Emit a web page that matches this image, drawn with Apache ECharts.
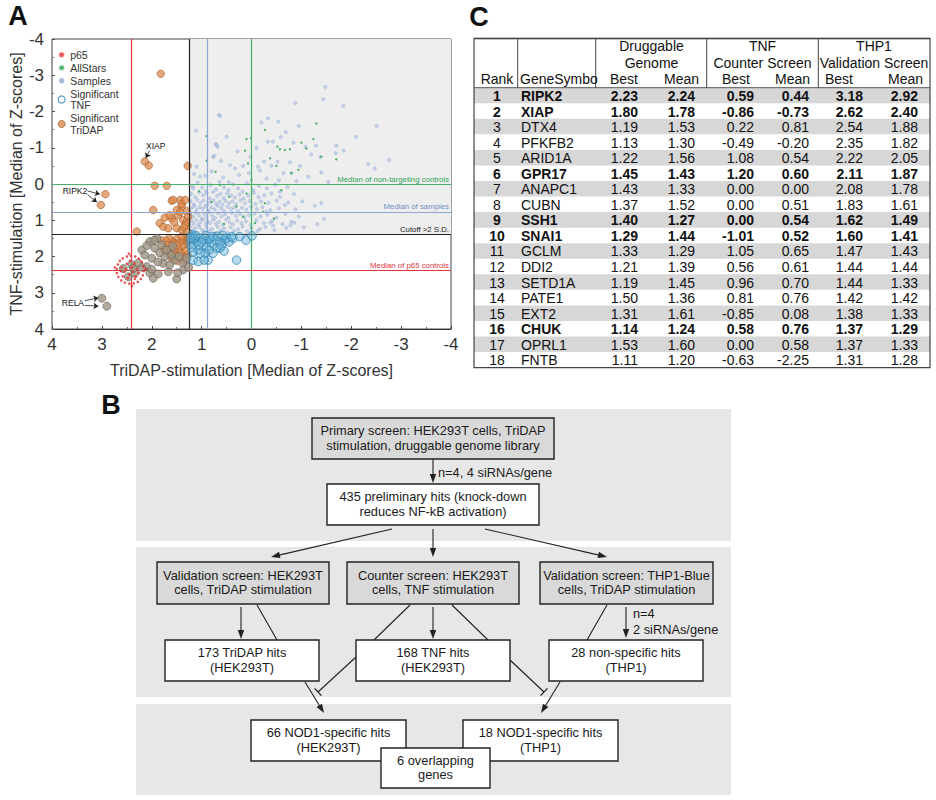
<!DOCTYPE html>
<html>
<head>
<meta charset="utf-8">
<title>NOD1 siRNA screen</title>
<script src="https://cdn.jsdelivr.net/npm/echarts@6/dist/echarts.min.js"></script>
<style>
html, body { margin: 0; padding: 0; background: #fff; }
#main { width: 936px; height: 800px; }
</style>
</head>
<body>
<div id="main"></div>
<script>
// ---------- panel A: [TriDAP, TNF] median Z-scores ----------
const p65 = [
  [2.7,2.35],[2.68,2.22],[2.64,2.12],[2.58,2.05],[2.5,2.0],[2.42,1.98],[2.33,2.0],[2.26,2.06],[2.2,2.15],[2.17,2.27],
  [2.16,2.4],[2.18,2.52],[2.22,2.62],[2.28,2.7],[2.36,2.74],[2.45,2.75],[2.54,2.72],[2.61,2.66],[2.67,2.56],[2.7,2.46],
  [2.6,2.3],[2.55,2.42],[2.5,2.2],[2.45,2.5],[2.4,2.3],[2.38,2.42],[2.35,2.2],[2.32,2.55],[2.3,2.35],[2.48,2.6],
  [2.58,2.55],[2.26,2.45],[2.52,2.35],[2.44,2.12],[2.62,2.4],[2.34,2.62],[2.74,2.3],[2.12,2.35],[2.4,2.82],[2.46,1.92]
]
const allStars = [
  [-1.3,-1.67],[-0.27,-1.49],[0.1,-1.24],[0.01,-1.26],[0.9,-1.32],[0.13,-0.92],[-0.57,-0.96],[-0.67,-0.94],[-0.77,-0.96],
  [-1.0,-1.14],[-1.1,-0.98],[-1.4,-0.75],[-1.7,-0.68],[-1.24,-1.24],[-0.52,-1.03],[-0.37,-0.71],[-0.5,-0.5],[0.9,-0.64],
  [0.72,-0.34],[0.07,-0.57],[-0.8,-0.3],[-0.94,-0.39],[0.63,0.03],[0.1,0.26],[-0.27,0.53],[0.17,0.9],[-0.23,0.77],
  [-0.07,1.08],[0.0,-0.11],[-0.6,0.17],[0.45,0.35],[0.8,0.5],[0.3,0.62],[-0.45,0.95],[1.05,0.2],[0.55,1.1]
]
const samples = [
  [-1.48,-2.68],[-1.44,-2.34],[-1.84,-2.16],[-0.88,-2.23],[-2.51,-1.6],[-2.1,-1.3],[-2.76,-0.66],[-2.34,-0.55],[-2.47,-0.43],
  [0.63,-1.88],[-0.33,-1.81],[-0.2,-1.7],[-0.54,-1.72],[-0.69,-1.43],[-0.59,-1.29],[-0.43,-1.17],[-0.33,-1.17],[-0.84,-1.14],
  [-1.08,-1.03],[-1.29,-1.06],[-1.7,-1.06],[-1.85,-0.92],[-1.69,-0.85],[-1.2,-0.82],[-1.38,-0.75],[0.72,-1.1],[0.68,-1.03],
  [0.75,-0.77],[0.61,-0.63],[0.43,-0.52],[0.33,-0.43],[0.17,-0.5],[-0.13,-0.48],[-0.17,-0.37],[-0.4,-0.5],[-0.52,-0.62],
  [-0.77,-0.6],[-0.8,-0.3],[-0.97,-0.5],[-0.64,-0.3],[-1.4,-0.32],[-1.14,-0.2],[-1.54,-0.06],[0.93,-0.23],
  [1.11,-1.47],[0.65,-1.9],[0.7,-1.08],[0.77,-0.75],[1.1,-0.48],[1.03,-0.2],[1.17,0.12],
  [0.57,-0.18],[0.25,-0.25],[0.05,-0.3],[-0.3,-0.15],[-0.55,-0.1],[-0.9,-0.08],[0.8,-0.35],[0.45,-0.05],[1.15,-0.28],
  [-0.25,-0.62],[0.02,-0.75],[0.28,-0.9],[-0.1,-1.0],[0.5,-1.3],[-0.95,-1.6],
  [1.18,0.07],[1.08,-0.04],[0.99,0.1],[0.91,0.19],[0.82,0.03],[0.71,0.15],[0.64,-0.06],[0.55,0.09],[0.46,0.17],[0.37,0.01],
  [0.27,0.12],[0.18,0.21],[0.09,-0.02],[-0.03,0.16],[-0.15,0.05],[-0.31,0.12],[-0.48,0.02],[-0.72,0.09],
  [1.21,0.27],[1.13,0.36],[1.05,0.23],[0.97,0.31],[0.9,0.25],[0.84,0.4],[0.77,0.22],[0.69,0.33],[0.62,0.27],[0.56,0.39],
  [0.49,0.26],[0.41,0.31],[0.33,0.37],[0.24,0.29],[0.16,0.4],[0.06,0.32],[-0.05,0.24],[-0.14,0.36],[-0.26,0.31],[-0.4,0.26],
  [-0.57,0.36],[-0.85,0.28],
  [1.22,0.47],[1.16,0.56],[1.09,0.44],[1.02,0.52],[0.96,0.46],[0.89,0.58],[0.83,0.5],[0.76,0.45],[0.71,0.55],[0.64,0.49],
  [0.58,0.57],[0.52,0.46],[0.45,0.53],[0.38,0.48],[0.31,0.56],[0.22,0.45],[0.13,0.53],[0.04,0.47],[-0.08,0.55],[-0.19,0.48],
  [-0.34,0.52],[-0.5,0.46],[-0.74,0.51],[-1.02,0.48],
  [1.2,0.66],[1.14,0.61],[1.1,0.71],[1.04,0.64],[0.98,0.69],[0.93,0.62],[0.87,0.73],[0.8,0.65],[0.74,0.7],[0.68,0.6],
  [0.61,0.67],[0.55,0.74],[0.48,0.63],[0.41,0.69],[0.34,0.65],[0.27,0.75],[0.19,0.66],[0.1,0.71],[0.01,0.63],[-0.11,0.69],
  [-0.22,0.64],[-0.38,0.72],[-0.55,0.67],[-0.88,0.7],
  [1.23,0.83],[1.17,0.9],[1.12,0.79],[1.06,0.86],[1.0,0.95],[0.95,0.82],[0.9,0.91],[0.85,0.78],[0.79,0.87],[0.73,0.94],
  [0.67,0.81],[0.6,0.89],[0.53,0.84],[0.46,0.93],[0.39,0.8],[0.31,0.88],[0.23,0.83],[0.14,0.92],[0.05,0.86],[-0.06,0.81],
  [-0.18,0.9],[-0.32,0.85],[-0.5,0.93],[-0.68,0.82],[-0.95,0.9],
  [1.21,1.02],[1.16,1.09],[1.11,0.99],[1.07,1.12],[1.02,1.05],[0.97,0.98],[0.92,1.11],[0.88,1.03],[0.83,1.08],[0.77,0.99],
  [0.71,1.1],[0.65,1.04],[0.58,1.13],[0.51,0.98],[0.44,1.06],[0.37,1.11],[0.29,1.01],[0.2,1.08],[0.11,1.03],[0.02,1.13],
  [-0.1,1.0],[-0.25,1.08],[-0.42,1.02],[-0.62,1.11],[-0.8,1.04],
  [1.22,1.17],[1.18,1.29],[1.13,1.22],[1.09,1.35],[1.04,1.19],[0.99,1.27],[0.95,1.33],[0.9,1.2],[0.84,1.3],[0.79,1.24],
  [0.74,1.36],[0.68,1.18],[0.62,1.28],[0.55,1.23],[0.49,1.34],[0.42,1.2],[0.35,1.29],[0.27,1.25],[0.18,1.17],[0.09,1.31],
  [0.0,1.22],[-0.12,1.3],[-0.28,1.19],[-0.46,1.27],[-0.7,1.21],[-1.05,1.2],[-1.32,1.11],[-1.45,0.96],[-1.4,0.53],[-1.27,0.6],
  [-0.86,1.07],[-0.78,1.14],[-0.43,1.15],[-0.67,0.58],[-0.57,0.21],[-0.3,0.76],[-0.17,1.24],[-0.37,1.07]
]
const sigTNF = [
  [1.17,1.45],[1.1,1.59],[1.03,1.5],[0.97,1.55],[0.87,1.55],[0.8,1.64],[0.73,1.55],[0.63,1.59],[0.53,1.55],[0.5,1.5],
  [0.7,1.77],[0.63,1.77],[0.77,1.91],[0.93,1.91],[1.07,1.82],[1.17,2.1],[1.07,2.14],[1.03,1.91],[0.87,2.1],[0.6,1.7],
  [0.3,2.1],[0.11,1.55],[0.37,1.5],[0.24,1.45],[-0.01,1.43],[0.95,2.1],[0.83,1.5],[1.2,1.4],[1.15,1.5],[1.22,1.62],
  [1.12,1.42],[1.05,1.68],[0.92,1.42],[0.9,1.72],[0.78,1.45],[0.68,1.44],[0.58,1.42],[0.45,1.6],[0.4,1.45],[1.2,1.75],
  [1.18,1.88],[1.0,1.62],[0.85,1.82],[0.55,1.85],[1.22,1.5]
]
const sigTriDAP = [
  [1.82,-3.04],[2.14,-0.62],[2.06,-0.51],[1.28,-0.5],[2.93,0.28],[3.02,0.58],[1.94,0.05],[1.7,0.05],[1.6,0.46],[1.43,0.44],
  [1.4,0.63],[1.5,0.72],[1.97,0.72],[1.74,0.93],[1.6,0.95],[1.47,0.86],[1.37,0.99],[1.3,1.04],[1.84,1.08],[1.77,1.18],
  [1.67,1.22],[1.5,1.22],[2.3,1.31],[1.4,1.27],[1.33,1.13],[1.4,0.55],[1.33,0.44],[1.43,0.77],[1.57,0.44],[1.64,0.86],
  [1.3,0.75],[1.27,0.9],[1.55,1.05],[1.35,1.2],[1.28,1.32],
  [1.3,1.48],[1.36,1.55],[1.42,1.6],[1.5,1.52],[1.58,1.58],[1.65,1.5],[1.72,1.56],[1.3,1.65],[1.38,1.72],[1.46,1.78],
  [1.55,1.82],[1.63,1.75],[1.7,1.68],[1.52,1.95],[1.42,1.9],[1.32,1.85],[1.6,2.05],[1.48,2.12],[1.36,2.0],[1.28,1.95],
  [1.76,1.8],[1.66,1.92],[1.56,1.64],[1.4,1.45],[1.82,1.55],[1.34,2.12],[1.27,1.55],[1.5,1.68]
]
// significant in both screens (drawn as the blended grey-brown circles)
const sigBoth = [
  [2.2,1.82],[2.14,1.96],[2.1,2.28],[2.2,2.3],[2.04,2.45],[1.97,2.6],[1.87,2.48],[2.4,2.23],[2.57,2.33],[2.47,2.56],
  [2.34,2.46],[2.37,2.33],[1.5,2.62],[1.67,2.42],[1.77,2.19],[2.0,2.05],[1.94,1.77],[2.04,1.59],[1.9,1.5],[1.8,1.68],
  [1.74,2.0],[1.64,2.23],[1.54,2.1],[1.37,2.19],[1.37,2.37],[2.0,2.35],[1.84,1.9],[1.7,1.82],[1.6,1.96],[1.88,2.15],
  [1.45,2.0],[1.58,1.72],[1.3,2.05],[2.1,1.7],[3.0,3.15],[2.9,3.37],[1.95,1.55],[2.27,2.18],[1.48,2.45],[1.26,2.3]
]
const refNames = ['Median of p65 controls', 'Cutoff >2 S.D.', 'Median of samples', 'Median of non-targeting controls']
const refX = [2.41, 1.24, 0.88, 0.0]
const refY = [2.39, 1.39, 0.77, 0.02]
// gene call-outs: label position, arrow tails and heads
const calloutNames = ['XIAP', 'RIPK2', 'RELA']
const calloutAt = [[1.92, -1.05], [3.54, 0.18], [3.58, 3.28]]
const calloutArrows = [
  [[2.04, -0.92], [2.12, -0.72]],
  [[3.29, 0.19], [3.04, 0.28]], [[3.29, 0.29], [3.1, 0.5]],
  [[3.34, 3.22], [3.07, 3.14]], [[3.34, 3.35], [3.07, 3.37]]
]

// ---------- panel C: top 18 hits ----------
const ranks = [1, 2, 3, 4, 5, 6, 7, 8, 9, 10, 11, 12, 13, 14, 15, 16, 17, 18]
const genes = ['RIPK2', 'XIAP', 'DTX4', 'PFKFB2', 'ARID1A', 'GPR17', 'ANAPC1', 'CUBN', 'SSH1', 'SNAI1', 'GCLM', 'DDI2', 'SETD1A', 'PATE1', 'EXT2', 'CHUK', 'OPRL1', 'FNTB']
const dgBest = [2.23, 1.80, 1.19, 1.13, 1.22, 1.45, 1.43, 1.37, 1.40, 1.29, 1.33, 1.21, 1.19, 1.50, 1.31, 1.14, 1.53, 1.11]
const dgMean = [2.24, 1.78, 1.53, 1.30, 1.56, 1.43, 1.33, 1.52, 1.27, 1.44, 1.29, 1.39, 1.45, 1.36, 1.61, 1.24, 1.60, 1.20]
const tnfBest = [0.59, -0.86, 0.22, -0.49, 1.08, 1.20, 0.00, 0.00, 0.00, -1.01, 1.05, 0.56, 0.96, 0.81, -0.85, 0.58, 0.00, -0.63]
const tnfMean = [0.44, -0.73, 0.81, -0.20, 0.54, 0.60, 0.00, 0.51, 0.54, 0.52, 0.65, 0.61, 0.70, 0.76, 0.08, 0.76, 0.58, -2.25]
const thpBest = [3.18, 2.62, 2.54, 2.35, 2.22, 2.11, 2.08, 1.83, 1.62, 1.60, 1.47, 1.44, 1.44, 1.42, 1.38, 1.37, 1.37, 1.31]
const thpMean = [2.92, 2.40, 1.88, 1.82, 2.05, 1.87, 1.78, 1.61, 1.49, 1.41, 1.43, 1.44, 1.33, 1.42, 1.33, 1.29, 1.33, 1.28]
const boldRanks = [1, 2, 6, 9, 10, 16]
const groupHeads = [['Druggable', 'Genome'], ['TNF', 'Counter Screen'], ['THP1', 'Validation Screen']]
const subHeads = ['Best', 'Mean']

// ---------- panel B: screening workflow ----------
const boxTexts = [
  ['Primary screen: HEK293T cells, TriDAP', 'stimulation, druggable genome library'],
  ['435 preliminary hits (knock-down', 'reduces NF-kB activation)'],
  ['Validation screen: HEK293T', 'cells, TriDAP stimulation'],
  ['Counter screen: HEK293T', 'cells, TNF stimulation'],
  ['Validation screen: THP1-Blue', 'cells, TriDAP stimulation'],
  ['173 TriDAP hits', '(HEK293T)'],
  ['168 TNF hits', '(HEK293T)'],
  ['28 non-specific hits', '(THP1)'],
  ['66 NOD1-specific hits', '(HEK293T)'],
  ['18 NOD1-specific hits', '(THP1)'],
  ['6 overlapping', 'genes']
]
const stepNotes = ['n=4, 4 siRNAs/gene', 'n=4', '2 siRNAs/gene']

// layout of the diagram (pixels): x, y, w, h, grey fill
const boxLayout = [
  [312, 418, 242, 41, true], [327, 484, 212, 41, false],
  [157, 562, 172, 42, true], [347, 562, 172, 42, true], [540, 562, 173, 42, true],
  [165, 640, 154, 41, false], [356, 640, 154, 41, false], [549, 640, 154, 41, false],
  [251, 720, 155, 41, false], [463, 720, 155, 41, false], [381, 748, 109, 40, false]
]
const panelLayout = [[136, 409, 595, 132], [136, 547, 595, 150], [136, 704, 595, 91]]
// [x1, y1, x2, y2, kind] kind: a = arrow, l = plain line, t = inhibition
const links = [
  [433, 459, 433, 483, 'a'], [392, 529, 271, 557, 'a'], [433, 529, 433, 557, 'a'], [485, 529, 607, 557, 'a'],
  [241, 607, 241, 639, 'a'], [257, 605, 277, 640, 'l'], [410, 605, 374, 640, 'l'], [433, 607, 433, 639, 'a'],
  [452, 605, 488, 640, 'l'], [607, 605, 587, 640, 'l'], [626, 607, 626, 638, 'a'],
  [305, 682, 324, 713, 'a'], [356, 657, 318, 692, 't'], [510, 660, 544, 692, 't'], [560, 682, 541, 713, 'a']
]

const SANS = '"Liberation Sans", Arial, Helvetica, sans-serif'

function txt(x, y, text, opts) {
  opts = opts || {}
  return {
    type: 'text', silent: true, z: opts.z || 10,
    style: Object.assign({
      x: x, y: y, text: text,
      fill: opts.fill || '#111',
      font: (opts.bold ? 'bold ' : '') + (opts.size || 14) + 'px ' + SANS,
      align: opts.align || 'center', textAlign: opts.align || 'center',
      verticalAlign: 'middle', textVerticalAlign: 'middle'
    }, opts.extra || {})
  }
}
function line(x1, y1, x2, y2, color, w) {
  return { type: 'line', silent: true, z: 10, shape: { x1, y1, x2, y2 }, style: { stroke: color || '#222', lineWidth: w || 1 } }
}

const elements = []

// panel letters
elements.push(txt(18, 16, 'A', { bold: true, size: 27 }))
elements.push(txt(479, 17, 'C', { bold: true, size: 27 }))
elements.push(txt(111, 405, 'B', { bold: true, size: 27 }))

// ---- table (panel C)
const tL = 474, tR = 930, tTop = 38.5, hBottom = 87.7, rowH = 15.55
const colLines = [517.7, 595.7, 706.7, 818.3]
ranks.forEach(function (r, i) {
  if (i % 2 === 0) {
    elements.push({ type: 'rect', silent: true, z: 9, shape: { x: tL, y: hBottom + i * rowH, width: tR - tL, height: rowH }, style: { fill: '#d7d7d7' } })
  }
})
elements.push({ type: 'rect', silent: true, z: 11, shape: { x: tL, y: tTop, width: tR - tL, height: hBottom + ranks.length * rowH - tTop }, style: { fill: 'none', stroke: '#444', lineWidth: 1.2 } })
elements.push(line(tL, tTop, tR, tTop, '#888', 2))
elements.push(line(tL, hBottom, tR, hBottom, '#555', 1))
colLines.forEach(function (x) { elements.push(line(x, tTop, x, hBottom, '#444', 1)) })

const hy = [45.7, 62.8, 79.2]
const groupCenters = [651.5, 762.5, 874]
groupHeads.forEach(function (g, k) {
  elements.push(txt(groupCenters[k], hy[0], g[0]))
  elements.push(txt(groupCenters[k], hy[1], g[1]))
})
elements.push(txt(497, hy[2], 'Rank'))
elements.push(txt(520, hy[2], 'GeneSymbol', { align: 'left', extra: { width: 79, overflow: 'truncate', ellipsis: '' } }))
const subHeadRight = [638, 699, 750, 810, 853, 923]
subHeadRight.forEach(function (x, k) { elements.push(txt(x, hy[2], subHeads[k % 2], { align: 'right' })) })

const numCols = [dgBest, dgMean, tnfBest, tnfMean, thpBest, thpMean]
const numRight = [638, 695, 754, 809, 863, 918]
ranks.forEach(function (r, i) {
  const y = hBottom + (i + 0.5) * rowH + 0.5
  const bold = boldRanks.indexOf(r) >= 0
  elements.push(txt(497, y, String(r), { bold: bold }))
  elements.push(txt(521, y, genes[i], { bold: bold, align: 'left' }))
  numCols.forEach(function (col, k) {
    elements.push(txt(numRight[k], y, col[i].toFixed(2), { bold: bold, align: 'right' }))
  })
})

// ---- workflow (panel B)
panelLayout.forEach(function (p) {
  elements.push({ type: 'rect', silent: true, z: 8, shape: { x: p[0], y: p[1], width: p[2], height: p[3] }, style: { fill: '#e7e7e7' } })
})
links.forEach(function (l) {
  const x1 = l[0], y1 = l[1], x2 = l[2], y2 = l[3]
  const len = Math.hypot(x2 - x1, y2 - y1)
  const ux = (x2 - x1) / len, uy = (y2 - y1) / len
  if (l[4] === 'a') {
    elements.push(line(x1, y1, x2 - ux * 5, y2 - uy * 5, '#222', 1.1))
    elements.push({
      type: 'polygon', silent: true, z: 10,
      shape: { points: [[x2, y2], [x2 - ux * 9 - uy * 3.2, y2 - uy * 9 + ux * 3.2], [x2 - ux * 9 + uy * 3.2, y2 - uy * 9 - ux * 3.2]] },
      style: { fill: '#222' }
    })
  } else {
    elements.push(line(x1, y1, x2, y2, '#222', 1.1))
    if (l[4] === 't') elements.push(line(x2 - uy * 5, y2 + ux * 5, x2 + uy * 5, y2 - ux * 5, '#222', 1.3))
  }
})
boxLayout.forEach(function (b, i) {
  elements.push({ type: 'rect', silent: true, z: 12, shape: { x: b[0], y: b[1], width: b[2], height: b[3] }, style: { fill: b[4] ? '#d9d9d9' : '#fff', stroke: '#222', lineWidth: 1.4 } })
  const cx = b[0] + b[2] / 2
  elements.push(txt(cx, b[1] + b[3] * 0.31, boxTexts[i][0], { size: 12.8, z: 13, fill: '#1a1a1a' }))
  elements.push(txt(cx, b[1] + b[3] * 0.66, boxTexts[i][1], { size: 12.8, z: 13, fill: '#1a1a1a' }))
})
elements.push(txt(438, 472, stepNotes[0], { size: 12.8, align: 'left', fill: '#1a1a1a' }))
elements.push(txt(633, 613, stepNotes[1], { size: 12.8, align: 'left', fill: '#1a1a1a' }))
elements.push(txt(633, 629, stepNotes[2], { size: 12.8, align: 'left', fill: '#1a1a1a' }))

// ---- chart (panel A)
const chart = echarts.init(document.getElementById('main'), null, { renderer: 'svg' })
const refColors = ['#e5343a', '#222', '#8ba6cf', '#45b067']
const refLabelColors = ['#e5343a', '#222', '#6f90c4', '#2fa257']

const option = {
  animation: false,
  textStyle: { fontFamily: SANS },
  grid: { left: 52, top: 39, width: 399, height: 290, show: true, borderColor: '#444', borderWidth: 1 },
  legend: {
    orient: 'vertical', left: 57, top: 49, padding: 0, itemGap: 1.5, itemWidth: 7, itemHeight: 7,
    textStyle: { fontSize: 10.5, color: '#333', lineHeight: 11.5, fontFamily: SANS },
    formatter: function (n) { return n.replace('Significant ', 'Significant\n') },
    data: [
      { name: 'p65', icon: 'circle', itemStyle: { color: '#e32b2b', borderColor: '#fff', borderWidth: 2.3 } },
      { name: 'AllStars', icon: 'circle', itemStyle: { color: '#2ea44f', borderColor: '#fff', borderWidth: 2.3 } },
      { name: 'Samples', icon: 'circle', itemStyle: { color: '#8fa8d2', borderColor: '#fff', borderWidth: 1.8 } },
      { name: 'Significant TNF', icon: 'circle', itemStyle: { color: '#fff', borderColor: '#2f86b5', borderWidth: 1.2 } },
      { name: 'Significant TriDAP', icon: 'circle', itemStyle: { color: '#d98a4f', borderColor: '#a8612d', borderWidth: 1 } }
    ]
  },
  xAxis: {
    type: 'value', min: -4, max: 4, interval: 1, inverse: true,
    axisLine: { show: true, onZero: false, lineStyle: { color: '#333' } },
    axisTick: { show: true, inside: true, length: 3, lineStyle: { color: '#444' } },
    minorTick: { show: true, splitNumber: 2, length: 2, lineStyle: { color: '#666' } },
    axisLabel: { fontSize: 17, color: '#333', margin: 7 },
    splitLine: { show: false },
    name: 'TriDAP-stimulation [Median of Z-scores]', nameLocation: 'middle', nameGap: 33,
    nameTextStyle: { fontSize: 16, color: '#333' }
  },
  yAxis: {
    type: 'value', min: -4, max: 4, interval: 1, inverse: true,
    axisLine: { show: true, onZero: false, lineStyle: { color: '#999' } },
    axisTick: { show: true, inside: true, length: 3, lineStyle: { color: '#555' } },
    minorTick: { show: true, splitNumber: 2, length: 2, lineStyle: { color: '#777' } },
    axisLabel: { fontSize: 17, color: '#333', margin: 8 },
    splitLine: { show: false },
    name: 'TNF-stimulation [Median of Z-scores]', nameLocation: 'middle', nameGap: 27,
    nameTextStyle: { fontSize: 16, color: '#333' }
  },
  series: [
    {
      name: 'shade', type: 'scatter', data: [], z: 0, silent: true,
      markArea: {
        silent: true, itemStyle: { color: '#eeeeee' },
        data: [[{ xAxis: refX[1], yAxis: -4 }, { xAxis: -4, yAxis: refY[1] }]]
      }
    },
    {
      name: 'refs', type: 'scatter', data: [], z: 1, silent: true,
      markLine: {
        silent: true, symbol: 'none',
        data: refX.map(function (v, k) {
          return { xAxis: v, lineStyle: { color: refColors[k], width: 1.2, type: 'solid' }, label: { show: false } }
        }).concat(refY.map(function (v, k) {
          return {
            yAxis: v, name: refNames[k], lineStyle: { color: refColors[k], width: 1.2, type: 'solid' },
            label: { show: true, position: 'insideStartTop', formatter: '{b}', color: refLabelColors[k], fontSize: 7.8, distance: [2, 1] }
          }
        }))
      }
    },
    { name: 'Samples', type: 'scatter', data: samples, z: 2, symbolSize: 3.2, itemStyle: { color: 'rgba(170,190,226,0.7)', borderColor: 'rgba(125,152,200,0.9)', borderWidth: 0.5 } },
    { name: 'AllStars', type: 'scatter', data: allStars, z: 3, symbolSize: 2.4, itemStyle: { color: '#2ea44f' } },
    {
      name: 'Significant TriDAP', type: 'scatter', data: sigTriDAP, z: 4, symbolSize: 7.5,
      itemStyle: { color: 'rgba(218,135,75,0.9)', borderColor: '#a8612d', borderWidth: 0.8 },
      markPoint: {
        silent: true, symbol: 'circle', symbolSize: 0,
        label: { show: true, position: 'inside', formatter: '{b}', fontSize: 8.5, color: '#111' },
        data: calloutNames.map(function (n, k) { return { name: n, coord: calloutAt[k] } })
      },
      markLine: {
        silent: true, symbol: ['none', 'arrow'], symbolSize: 5,
        lineStyle: { color: '#222', width: 0.8, type: 'solid' }, label: { show: false },
        data: calloutArrows.map(function (a) { return [{ coord: a[0] }, { coord: a[1] }] })
      }
    },
    { name: 'Significant both', type: 'scatter', data: sigBoth, z: 5, symbolSize: 8, itemStyle: { color: '#9c9383', borderColor: '#6d655a', borderWidth: 0.8 } },
    { name: 'Significant TNF', type: 'scatter', data: sigTNF, z: 6, symbolSize: 8.5, itemStyle: { color: 'rgba(95,175,215,0.55)', borderColor: '#2f86b5', borderWidth: 1 } },
    { name: 'p65', type: 'scatter', data: p65, z: 7, symbolSize: 2.6, itemStyle: { color: '#e32b2b' } }
  ],
  graphic: { elements: elements }
}

chart.setOption(option)
window.addEventListener('resize', function () { chart.resize() })
</script>
</body>
</html>
